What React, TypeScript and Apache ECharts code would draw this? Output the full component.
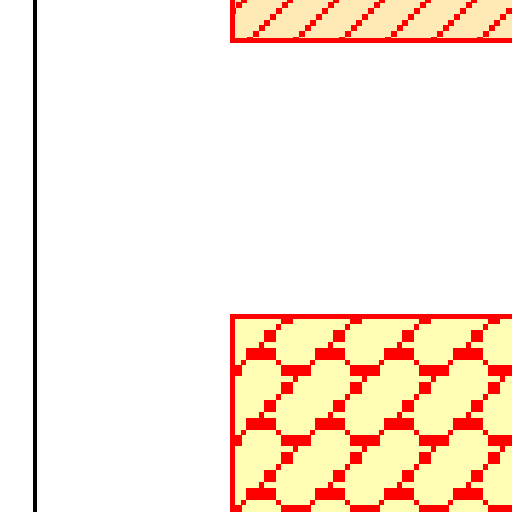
import React, { useEffect, useRef } from 'react';
import * as echarts from 'echarts';

const categories: string[] = ['A', 'B'];
const values: number[] = [80, 90];
const axisMin = -50;
const axisMax = 100;

type R = [number, number, number, number];

function makeTile(w: number, h: number, bg: string, rects: R[], ox: number, oy: number): string {
  const c = document.createElement('canvas');
  c.width = w;
  c.height = h;
  const ctx = c.getContext('2d')!;
  ctx.fillStyle = bg;
  ctx.fillRect(0, 0, w, h);
  ctx.fillStyle = '#ff0000';
  for (const [x, y, rw, rh] of rects) {
    const tx = (((x + ox) % w) + w) % w;
    const ty = (((y + oy) % h) + h) % h;
    for (const dx of [-w, 0, w]) {
      for (const dy of [-h, 0, h]) {
        ctx.fillRect(tx + dx, ty + dy, rw, rh);
      }
    }
  }
  return c.toDataURL();
}

function hatchTile(): string {
  const rects: R[] = [];
  for (let k = 0; k < 8; k++) {
    const cx = (k * 46) / 8 + 2.875;
    const cy = 14 - cx;
    rects.push([Math.round(cx - 3), Math.round(cy - 3), 6, 6]);
  }
  return makeTile(46, 46, '#ffe9b4', rects, 0, 0);
}

function chainTile(): string {
  const rects: R[] = [
    [34, 0, 12, 12],
    [29, 12, 5, 6],
    [16, 18, 30, 12],
    [11, 30, 5, 5],
    [46, 30, 5, 5],
    [51, 35, 30, 11],
    [63, 46, 5, 6],
    [51, 52, 12, 12],
    [46, 64, 5, 6],
  ];
  return makeTile(69, 70, '#fffcb4', rects, 23, 50);
}

export default function App() {
  const ref = useRef<HTMLDivElement>(null);
  useEffect(() => {
    if (!ref.current) return;
    const chart = echarts.init(ref.current, null, { renderer: 'svg' });
    const patterns = [
      { image: chainTile(), repeat: 'repeat', imageWidth: 69, imageHeight: 70 },
      { image: hatchTile(), repeat: 'repeat', imageWidth: 46, imageHeight: 46 },
    ];
    chart.setOption({
      animation: false,
      backgroundColor: '#ffffff',
      grid: {
        left: 35,
        right: -108,
        top: -350.5,
        bottom: -195.5,
        outerBoundsMode: 'none',
        containLabel: false,
      },
      xAxis: {
        type: 'value',
        min: axisMin,
        max: axisMax,
        show: false,
      },
      yAxis: {
        type: 'category',
        data: categories,
        axisLine: { show: true, onZero: false, lineStyle: { color: '#000000', width: 4 } },
        axisTick: { show: false },
        axisLabel: { show: false },
        splitLine: { show: false },
      },
      series: [
        {
          type: 'bar',
          barWidth: 258,
          data: values.map((v, i) => ({
            value: v,
            itemStyle: {
              color: patterns[i],
              borderColor: '#ff0000',
              borderWidth: 5,
            },
          })),
        },
      ],
    });
    return () => chart.dispose();
  }, []);
  return (
    <div
      ref={ref}
      style={{ position: 'fixed', left: 0, top: 0, width: 512, height: 512, background: '#fff' }}
    />
  );
}
